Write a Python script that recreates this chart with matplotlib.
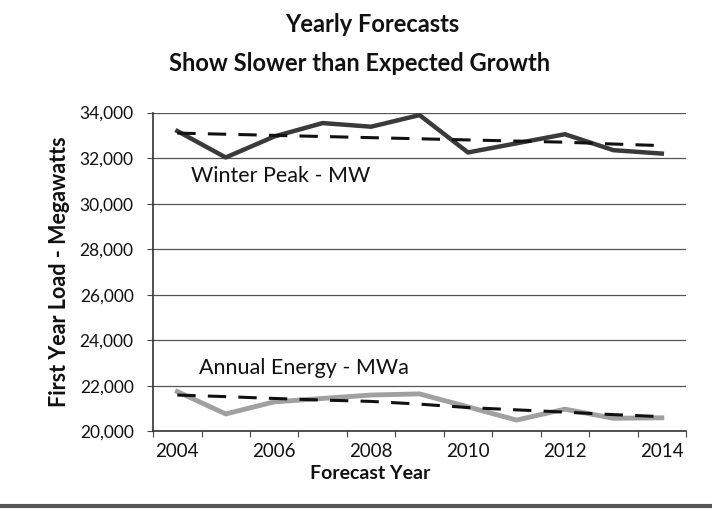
import matplotlib
matplotlib.use("Agg")
import matplotlib.pyplot as plt
from matplotlib.lines import Line2D
from matplotlib.ticker import FuncFormatter


years = [2004, 2005, 2006, 2007, 2008, 2009, 2010, 2011, 2012, 2013, 2014]
winter_peak = [33190, 32030, 32950, 33540, 33380, 33890, 32250, 32650, 33050, 32350, 32200]
winter_trend = [33100, 33050, 33000, 32950, 32900, 32850, 32800, 32750, 32700, 32620, 32550]
annual_energy = [21750, 20770, 21300, 21450, 21600, 21650, 21080, 20500, 20980, 20580, 20600]
energy_trend = [21600, 21530, 21450, 21380, 21320, 21200, 21050, 20950, 20850, 20740, 20650]
year_labels = ["2004", "2006", "2008", "2010", "2012", "2014"]

FONT = ["Lato", "DejaVu Sans"]
plt.rcParams["font.family"] = FONT

fig = plt.figure(figsize=(7.12, 5.16), dpi=100)
ax = fig.add_axes([0.215, 0.1638, 0.7485, 0.618])

x = list(range(len(years)))
ax.plot(x, winter_peak, color="#3a3a3a", lw=3.2, solid_joinstyle="round", zorder=3)
ax.plot(x, winter_trend, color="#111111", lw=2.2, dashes=(6, 4), zorder=4)
ax.plot(x, annual_energy, color="#a0a0a0", lw=3.5, solid_joinstyle="round", zorder=3)
ax.plot(x, energy_trend, color="#111111", lw=2.2, dashes=(6, 4), zorder=4)

ax.set_xlim(-0.5, len(years) - 0.5)
ax.set_ylim(20000, 34000)
ax.set_yticks(range(20000, 34001, 2000))
ax.yaxis.set_major_formatter(FuncFormatter(lambda v, p: f"{v:,.0f}"))
ax.set_xticks([years.index(int(s)) for s in year_labels])
ax.set_xticklabels(year_labels)
ax.set_xticks([i - 0.5 for i in range(len(years) + 1)], minor=True)
ax.tick_params(axis="x", which="major", length=0, pad=8, labelsize=13.5, colors="#111111")
ax.tick_params(axis="x", which="minor", length=4, width=0.8, color="#444444")
ax.tick_params(axis="y", length=4, width=0.8, color="#444444", pad=10, labelsize=12.5, labelcolor="#111111")

ax.grid(axis="y", color="#555555", lw=0.9)
ax.set_axisbelow(True)
for side in ("top", "right"):
    ax.spines[side].set_visible(False)
for side in ("left", "bottom"):
    ax.spines[side].set_color("#333333")
    ax.spines[side].set_linewidth(1.2)

ax.set_ylabel("First Year Load - Megawatts", fontsize=15.5, fontweight="bold", color="#111111")
ax.yaxis.set_label_coords(-0.155, 0.5)
fig.text(0.52, 0.082, "Forecast Year", ha="center", va="center", fontsize=14, fontweight="bold", color="#111111")

ax.text(0.28, 31200, "Winter Peak - MW", fontsize=15.5, color="#111111", va="center")
ax.text(0.45, 22800, "Annual Energy - MWa", fontsize=15.5, color="#111111", va="center")

fig.text(0.523, 0.953, "Yearly Forecasts", ha="center", va="center", fontsize=17, fontweight="bold", color="#111111")
fig.text(0.505, 0.876, "Show Slower than Expected Growth", ha="center", va="center", fontsize=17, fontweight="bold", color="#111111")

fig.add_artist(Line2D([0, 1], [0.02, 0.02], transform=fig.transFigure, color="#555555", lw=3))

fig.savefig("out.png", dpi=100)
